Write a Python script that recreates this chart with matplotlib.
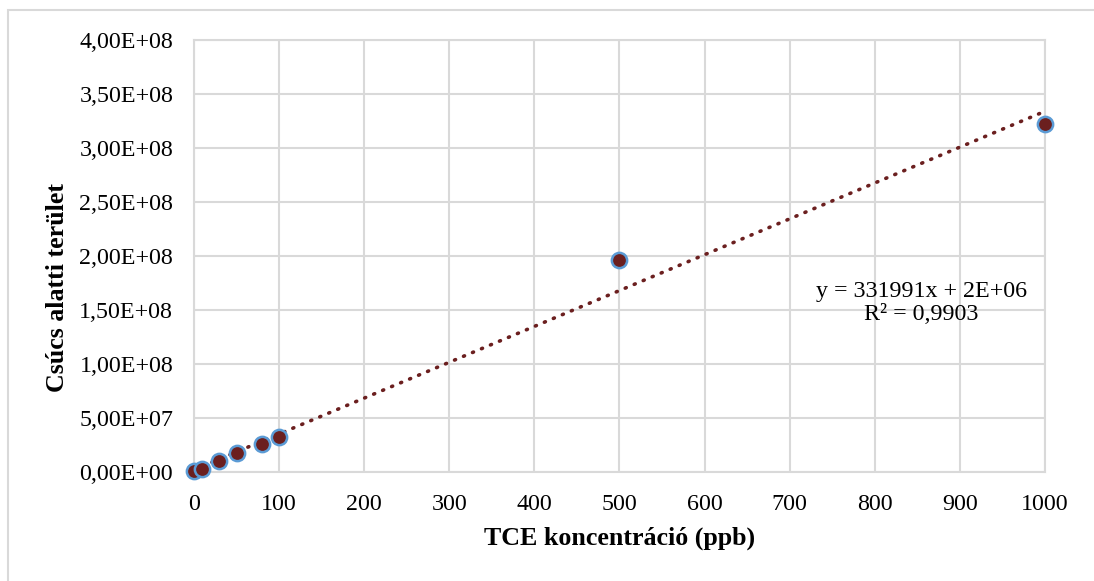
import numpy as np
import matplotlib
matplotlib.use('Agg')
import matplotlib.pyplot as plt
from matplotlib.patches import Rectangle
from matplotlib.ticker import FuncFormatter

# TCE calibration: concentration (ppb) vs. peak area
conc = [0, 10, 30, 50, 80, 100, 500, 1000]
area = [0.5e6, 3.0e6, 1.0e7, 1.8e7, 2.6e7, 3.2e7, 1.96e8, 3.22e8]

# linear trendline coefficients as shown in the equation label
slope = 331991
intercept = 2e6
r2 = 0.9903

x_ticks = list(range(0, 1001, 100))
y_ticks = [i * 0.5e8 for i in range(9)]

plt.rcParams['font.family'] = ['Liberation Serif', 'DejaVu Serif']

fig = plt.figure(figsize=(10.94, 5.81), dpi=100)
ax = fig.add_axes([0.1773, 0.1876, 0.9552 - 0.1773, 0.9312 - 0.1876])

# outer chart border (left and top edges visible)
fig.patches.append(Rectangle((8 / 1094, -0.1), 1.2, 1 - 10 / 581 + 0.1,
                             transform=fig.transFigure, fill=False,
                             edgecolor='#d9d9d9', linewidth=1.5))

xs = np.array([0, 1000])
ax.plot(xs, slope * xs + intercept, color='#6b1f1f', linewidth=2.6,
        linestyle=(0, (0.3, 2.4)), dash_capstyle='round', zorder=2)
ax.plot(conc, area, 'o', markersize=11, markerfacecolor='#6b1f1f',
        markeredgecolor='#5b9bd5', markeredgewidth=1.8, linestyle='none',
        zorder=3, clip_on=False)

ax.set_xlim(0, 1000)
ax.set_ylim(0, 4e8)
ax.set_xticks(x_ticks)
ax.set_yticks(y_ticks)
ax.yaxis.set_major_formatter(FuncFormatter(lambda v, p: f"{v:.2E}".replace('.', ',')))
ax.grid(True, color='#d9d9d9', linewidth=1.5)
ax.set_axisbelow(True)
ax.tick_params(length=0, labelsize=17.3, colors='black')
ax.tick_params(axis='x', pad=16)
ax.tick_params(axis='y', pad=15)
for s in ax.spines.values():
    s.set_color('#d9d9d9')
    s.set_linewidth(1.5)

ax.set_xlabel('TCE koncentráció (ppb)', fontsize=18.7, fontweight='bold', labelpad=8)
ax.set_ylabel('Csúcs alatti terület', fontsize=18.7, fontweight='bold')
ax.yaxis.set_label_coords(-0.147, 0.428)

ax.text(0.855, 0.391, f"y = {slope}x + 2E+06\nR² = {r2}".replace('0.', '0,'),
        transform=ax.transAxes, ha='center', va='center', fontsize=17.3, linespacing=1.15)

fig.savefig('out.png', dpi=100)
